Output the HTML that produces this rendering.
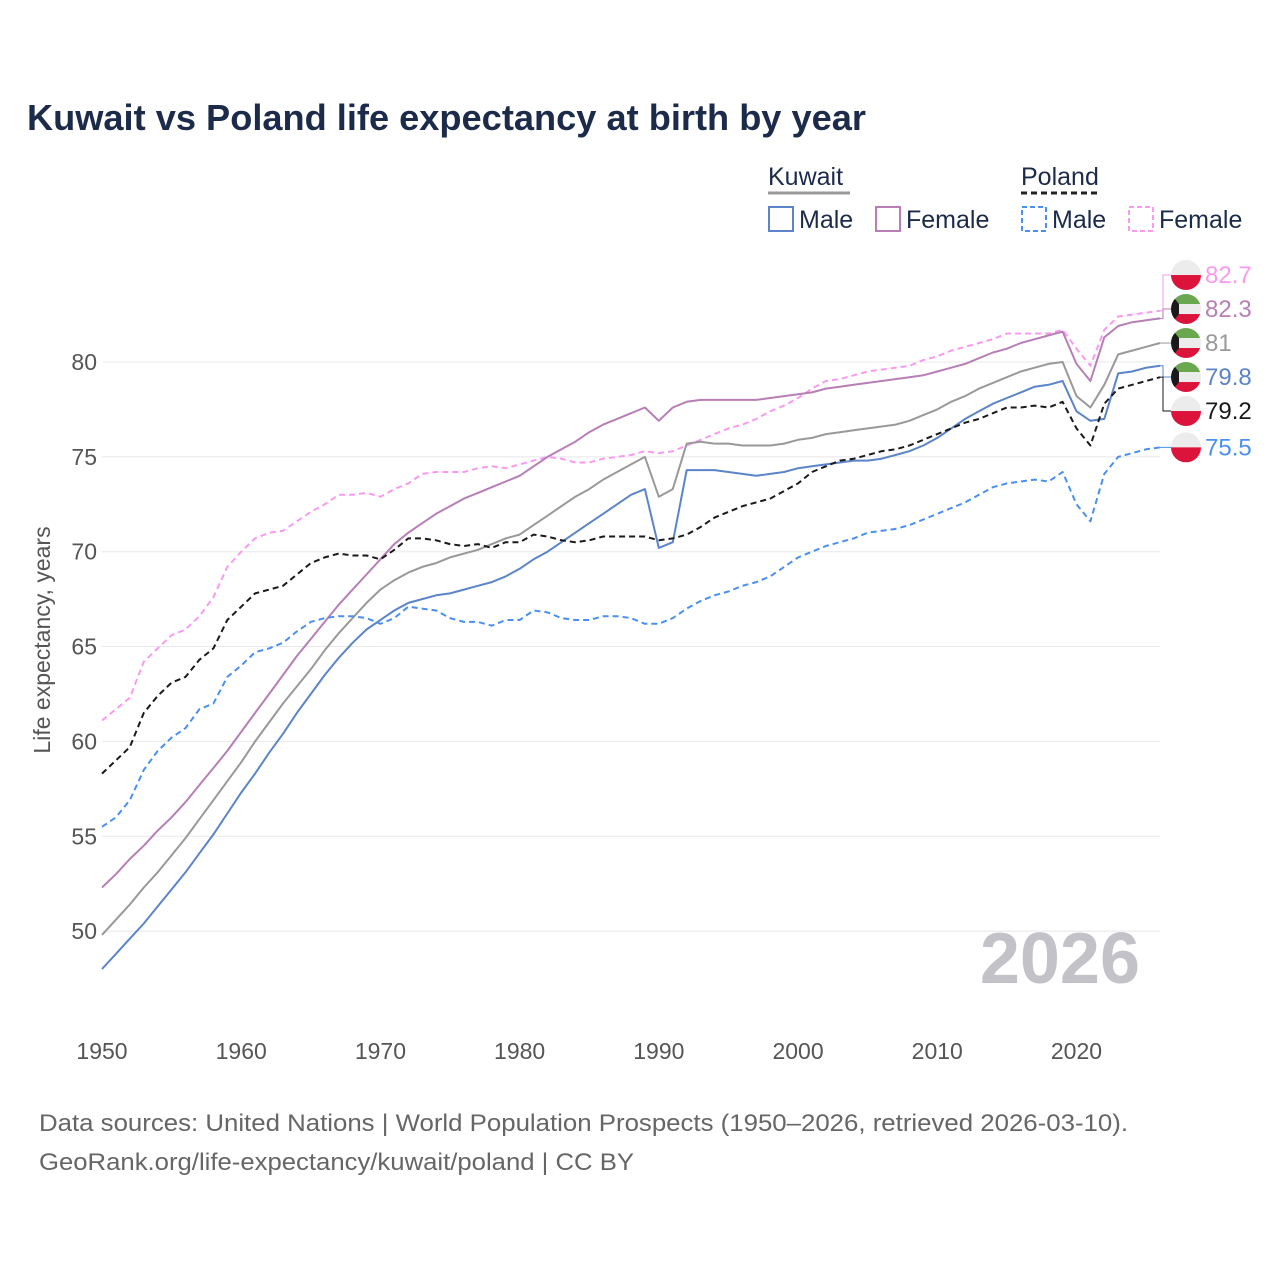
<!DOCTYPE html>
<html><head><meta charset="utf-8">
<style>
body{margin:0;background:#fff;}
svg text{font-family:"Liberation Sans",sans-serif;}
</style></head>
<body>
<svg id="chart" width="1280" height="1280" viewBox="0 0 1280 1280" xmlns="http://www.w3.org/2000/svg">
<rect width="1280" height="1280" fill="#fff"/>
<text x="27" y="130" font-size="36" font-weight="bold" fill="#1c2b4a" textLength="839" lengthAdjust="spacingAndGlyphs">Kuwait vs Poland life expectancy at birth by year</text>
<g font-size="25" fill="#1c2b4a">
  <text x="768" y="185" fill="#1c2b4a">Kuwait</text>
  <line x1="768" y1="193" x2="850" y2="193" stroke="#999" stroke-width="3"/>
  <text x="1021" y="185" fill="#1c2b4a">Poland</text>
  <line x1="1021" y1="193" x2="1100" y2="193" stroke="#222" stroke-width="3" stroke-dasharray="6,4"/>
  <g>
    <rect x="769" y="207" width="24" height="24" fill="none" stroke="#5b84c9" stroke-width="2"/>
    <text x="799" y="228">Male</text></g>
  <g>
    <rect x="876" y="207" width="24" height="24" fill="none" stroke="#b77fb5" stroke-width="2"/>
    <text x="906" y="228">Female</text></g>
  <g>
    <rect x="1022" y="207" width="24" height="24" fill="none" stroke="#4a90f0" stroke-width="2" stroke-dasharray="5,3"/>
    <text x="1052" y="228">Male</text></g>
  <g>
    <rect x="1129" y="207" width="24" height="24" fill="none" stroke="#f99af0" stroke-width="2" stroke-dasharray="5,3"/>
    <text x="1159" y="228">Female</text></g>
</g>
<text transform="translate(50,640) rotate(-90)" text-anchor="middle" font-size="23" fill="#555">Life expectancy, years</text>
<text x="1140" y="983" text-anchor="end" font-size="72" font-weight="bold" fill="#c3c2c8">2026</text>
<g id="grid"></g><g id="axes"></g><g id="series"></g><g id="labels"></g>
<text x="39" y="1131" font-size="24" fill="#666" textLength="1089" lengthAdjust="spacingAndGlyphs">Data sources: United Nations | World Population Prospects (1950–2026, retrieved 2026-03-10).</text>
<text x="39" y="1170" font-size="24" fill="#666" textLength="595" lengthAdjust="spacingAndGlyphs">GeoRank.org/life-expectancy/kuwait/poland | CC BY</text>
</svg>
<script>
const startYear = 1950;
const xTicks = [1950,1960,1970,1980,1990,2000,2010,2020];
const yTicks = [50,55,60,65,70,75,80];
const kuwaitMale = [48.0,48.8,49.6,50.4,51.3,52.2,53.1,54.1,55.1,56.2,
57.3,58.3,59.4,60.4,61.5,62.5,63.5,64.4,65.2,65.9,
66.4,66.9,67.3,67.5,67.7,67.8,68.0,68.2,68.4,68.7,
69.1,69.6,70.0,70.5,71.0,71.5,72.0,72.5,73.0,73.3,
70.2,70.5,74.3,74.3,74.3,74.2,74.1,74.0,74.1,74.2,
74.4,74.5,74.6,74.7,74.8,74.8,74.9,75.1,75.3,75.6,
76.0,76.5,77.0,77.4,77.8,78.1,78.4,78.7,78.8,79.0,
77.4,76.9,77.0,79.4,79.5,79.7,79.8];
const kuwaitTotal = [49.8,50.6,51.4,52.3,53.1,54.0,54.9,55.9,56.9,57.9,
58.9,60.0,61.0,62.0,62.9,63.8,64.8,65.7,66.5,67.3,
68.0,68.5,68.9,69.2,69.4,69.7,69.9,70.1,70.4,70.7,
70.9,71.4,71.9,72.4,72.9,73.3,73.8,74.2,74.6,75.0,
72.9,73.3,75.7,75.8,75.7,75.7,75.6,75.6,75.6,75.7,
75.9,76.0,76.2,76.3,76.4,76.5,76.6,76.7,76.9,77.2,
77.5,77.9,78.2,78.6,78.9,79.2,79.5,79.7,79.9,80.0,
78.2,77.6,78.8,80.4,80.6,80.8,81.0];
const kuwaitFemale = [52.3,53.0,53.8,54.5,55.3,56.0,56.8,57.7,58.6,59.5,
60.5,61.5,62.5,63.5,64.5,65.4,66.3,67.2,68.0,68.8,
69.6,70.4,71.0,71.5,72.0,72.4,72.8,73.1,73.4,73.7,
74.0,74.5,75.0,75.4,75.8,76.3,76.7,77.0,77.3,77.6,
76.9,77.6,77.9,78.0,78.0,78.0,78.0,78.0,78.1,78.2,
78.3,78.4,78.6,78.7,78.8,78.9,79.0,79.1,79.2,79.3,
79.5,79.7,79.9,80.2,80.5,80.7,81.0,81.2,81.4,81.6,
79.9,79.0,81.3,81.9,82.1,82.2,82.3];
const polandTotal = [58.3,59.0,59.7,61.5,62.4,63.1,63.4,64.3,64.9,66.4,
67.1,67.8,68.0,68.2,68.8,69.4,69.7,69.9,69.8,69.8,
69.6,70.1,70.7,70.7,70.6,70.4,70.3,70.4,70.2,70.5,
70.5,70.9,70.8,70.6,70.5,70.6,70.8,70.8,70.8,70.8,
70.6,70.7,70.9,71.3,71.8,72.1,72.4,72.6,72.8,73.2,
73.6,74.2,74.5,74.8,74.9,75.1,75.3,75.4,75.6,75.9,
76.2,76.5,76.8,77.0,77.3,77.6,77.6,77.7,77.6,77.9,
76.5,75.6,77.8,78.6,78.8,79.0,79.2];
const polandMale = [55.5,56.0,56.9,58.5,59.5,60.2,60.7,61.7,62.0,63.4,
64.0,64.7,64.9,65.2,65.8,66.3,66.5,66.6,66.6,66.5,
66.2,66.5,67.1,67.0,66.9,66.5,66.3,66.3,66.1,66.4,
66.4,66.9,66.8,66.5,66.4,66.4,66.6,66.6,66.5,66.2,
66.2,66.5,67.0,67.4,67.7,67.9,68.2,68.4,68.7,69.2,
69.7,70.0,70.3,70.5,70.7,71.0,71.1,71.2,71.4,71.7,
72.0,72.3,72.6,73.0,73.4,73.6,73.7,73.8,73.7,74.2,
72.5,71.6,74.1,75.0,75.2,75.4,75.5];
const polandFemale = [61.1,61.7,62.3,64.2,64.9,65.6,65.9,66.6,67.6,69.2,
70.0,70.7,71.0,71.1,71.6,72.1,72.5,73.0,73.0,73.1,
72.9,73.3,73.6,74.1,74.2,74.2,74.2,74.4,74.5,74.4,
74.6,74.8,75.0,74.9,74.7,74.7,74.9,75.0,75.1,75.3,
75.2,75.3,75.6,75.9,76.2,76.5,76.7,77.0,77.4,77.7,
78.1,78.6,79.0,79.1,79.3,79.5,79.6,79.7,79.8,80.1,
80.3,80.6,80.8,81.0,81.2,81.5,81.5,81.5,81.5,81.7,
80.7,79.8,81.7,82.4,82.5,82.6,82.7];

const NS = "http://www.w3.org/2000/svg";
const X0 = 102, X1 = 1160, YR0 = 1950, YR1 = 2026;
const Y80 = 362, PXU = 18.97;
function xs(yr){ return X0 + (yr - YR0) * (X1 - X0) / (YR1 - YR0); }
function ys(v){ return Y80 - (v - 80) * PXU; }
function mk(tag, attrs, parent){ const e = document.createElementNS(NS, tag); for (const k in attrs) e.setAttribute(k, attrs[k]); parent.appendChild(e); return e; }

const grid = document.getElementById('grid');
const axes = document.getElementById('axes');
yTicks.forEach(t => {
  const g = mk('line', {x1: X0, x2: X1, y1: ys(t), y2: ys(t), stroke: '#e8e8e8', 'stroke-width': 1}, grid);
  
  
  const l = mk('text', {x: 97, y: ys(t) + 8, 'text-anchor': 'end', 'font-size': 23, fill: '#555'}, axes);
  l.textContent = t;
  
  
});
xTicks.forEach(t => {
  const l = mk('text', {x: xs(t), y: 1059, 'text-anchor': 'middle', 'font-size': 23, fill: '#555'}, axes);
  l.textContent = t;
  
  
});

const seriesDefs = [
  {name: 'poland-female', data: polandFemale, color: '#f99af0', dash: '6,4', flag: 'pl', w: 2},
  {name: 'kuwait-female', data: kuwaitFemale, color: '#b77fb5', dash: '', flag: 'kw', w: 2},
  {name: 'kuwait-total', data: kuwaitTotal, color: '#999999', dash: '', flag: 'kw', w: 2},
  {name: 'kuwait-male', data: kuwaitMale, color: '#5b84c9', dash: '', flag: 'kw', w: 2},
  {name: 'poland-total', data: polandTotal, color: '#1a1a1a', dash: '6,4', flag: 'pl', w: 2},
  {name: 'poland-male', data: polandMale, color: '#4a90f0', dash: '6,4', flag: 'pl', w: 2}
];
const sg = document.getElementById('series');
seriesDefs.forEach(s => {
  const pts = s.data.map((v, i) => xs(startYear + i).toFixed(1) + ',' + ys(v).toFixed(1)).join(' ');
  const p = mk('polyline', {points: pts, fill: 'none', stroke: s.color, 'stroke-width': s.w, 'stroke-linejoin': 'round'}, sg);
  if (s.dash) p.setAttribute('stroke-dasharray', s.dash);
  
  
});

const GAP = 34;
const items = seriesDefs.map(s => ({s, v: s.data[s.data.length - 1], want: ys(s.data[s.data.length - 1])})).sort((a, b) => a.want - b.want);
let clusters = items.map(it => ({items: [it], top: it.want}));
let merged = true;
while (merged) {
  merged = false;
  for (let i = 0; i < clusters.length - 1; i++) {
    const a = clusters[i], b = clusters[i + 1];
    if (a.top + a.items.length * GAP > b.top) {
      const all = a.items.concat(b.items);
      const mean = all.reduce((s, it) => s + it.want, 0) / all.length;
      clusters.splice(i, 2, {items: all, top: mean - (all.length - 1) * GAP / 2});
      merged = true; break;
    }
  }
}
const lg = document.getElementById('labels');
const defs = mk('defs', {}, lg);
let cid = 0;
clusters.forEach(c => c.items.forEach((it, k) => {
  const ly = c.top + k * GAP;
  const s = it.s;
  const g = mk('g', {}, lg);
  
  
  mk('polyline', {points: `${X1},${it.want} ${X1 + 3},${it.want} ${X1 + 3},${ly} ${X1 + 12},${ly}`, fill: 'none', stroke: s.color, 'stroke-width': 1}, g);
  const cx = 1186, r = 15;
  const cp = mk('clipPath', {id: 'c' + cid}, defs);
  mk('circle', {cx, cy: ly, r}, cp);
  const fg = mk('g', {'clip-path': `url(#c${cid})`}, g);
  cid++;
  if (s.flag === 'pl') {
    mk('rect', {x: cx - r, y: ly - r, width: 2 * r, height: r, fill: '#ececec'}, fg);
    mk('rect', {x: cx - r, y: ly, width: 2 * r, height: r, fill: '#dc143c'}, fg);
  } else {
    mk('rect', {x: cx - r, y: ly - r, width: 2 * r, height: 10, fill: '#6aa84f'}, fg);
    mk('rect', {x: cx - r, y: ly - 5, width: 2 * r, height: 10, fill: '#ececec'}, fg);
    mk('rect', {x: cx - r, y: ly + 5, width: 2 * r, height: 10, fill: '#dc143c'}, fg);
    mk('polygon', {points: `${cx - r},${ly - r} ${cx - 7},${ly - 5} ${cx - 7},${ly + 5} ${cx - r},${ly + r}`, fill: '#1a1a1a'}, fg);
  }
  const t = mk('text', {x: 1205, y: ly + 8, 'font-size': 24, fill: s.color}, g);
  t.textContent = it.v;
}));
</script>
</body></html>
